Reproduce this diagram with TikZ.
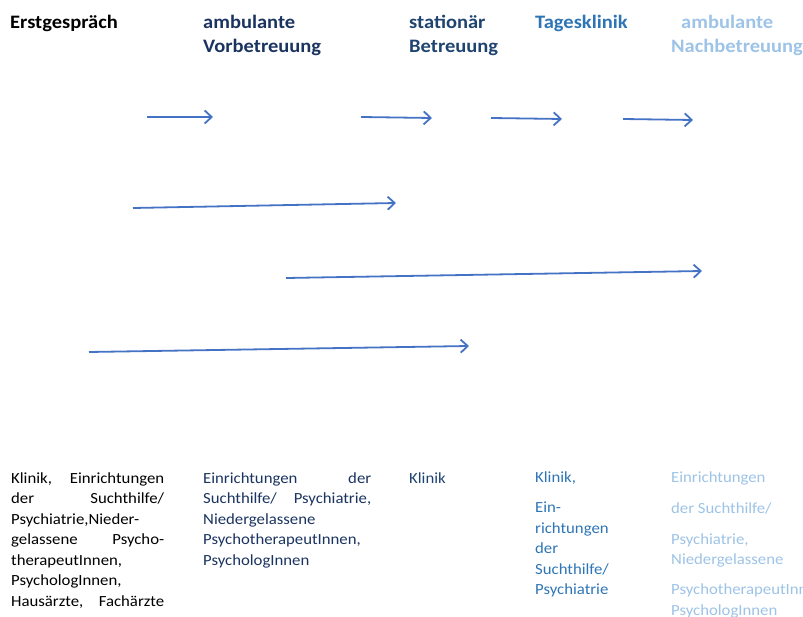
\documentclass[tikz,border=0pt]{standalone}
\usepackage{fontspec}
\setmainfont{Carlito}[FakeStretch=1.08]
\usetikzlibrary{arrows.meta}
\definecolor{navy}{HTML}{1A3360}
\definecolor{slate}{HTML}{1F4470}
\definecolor{midblue}{HTML}{2E75B6}
\definecolor{lightblue}{HTML}{9DC3E6}
\definecolor{arrowblue}{HTML}{4472C4}
\tikzset{
  hdr/.style={font=\fontsize{19}{24}\selectfont\bfseries, anchor=base west, inner sep=0pt},
  body/.style={font=\fontsize{15.5}{20.5}\selectfont, anchor=base west, inner sep=0pt},
  flow/.style={draw=arrowblue, line width=1.8pt, -{Straight Barb[length=7pt,width=13pt,line width=1.8pt]}}
}
\begin{document}
\begin{tikzpicture}[x=1pt,y=-1pt]
\useasboundingbox (0,0) rectangle (803,617);
\clip (0,0) rectangle (803,617);
% headers
\node[hdr] (h1) at (10,29) {Erstgespräch};
\node[hdr, text=navy] (h2a) at (203,29) {ambulante};
\node[hdr, text=navy] (h2b) at (203,53) {Vorbetreuung};
\node[hdr, text=slate] (h3a) at (409,29) {stationär};
\node[hdr, text=slate] (h3b) at (409,53) {Betreuung};
\node[hdr, text=midblue] (h4) at (535,29) {Tagesklinik};
\node[hdr, text=lightblue] (h5a) at (681,29) {ambulante};
\node[hdr, text=lightblue] (h5b) at (671,53) {Nachbetreuung};
% arrow end points
\coordinate (a1s) at (147,117); \coordinate (a1e) at (213,117);
\coordinate (a2s) at (361,117); \coordinate (a2e) at (432,118);
\coordinate (a3s) at (491,118); \coordinate (a3e) at (562,119);
\coordinate (a4s) at (623,119); \coordinate (a4e) at (693,120);
\coordinate (b1s) at (133,208); \coordinate (b1e) at (396,203);
\coordinate (b2s) at (286,278); \coordinate (b2e) at (702,271);
\coordinate (b3s) at (89,352);  \coordinate (b3e) at (469,346);
\draw[flow] (a1s) -- (a1e);
\draw[flow] (a2s) -- (a2e);
\draw[flow] (a3s) -- (a3e);
\draw[flow] (a4s) -- (a4e);
\draw[flow] (b1s) -- (b1e);
\draw[flow] (b2s) -- (b2e);
\draw[flow] (b3s) -- (b3e);
% column 1
\node[body] (c1l1) at (11,483) {\makebox[153pt][s]{Klinik, Einrichtungen}};
\node[body] (c1l2) at (11,503.5) {\makebox[153pt][s]{der Suchthilfe/}};
\node[body] (c1l3) at (11,524) {Psychiatrie,Nieder-};
\node[body] (c1l4) at (11,544.5) {\makebox[153pt][s]{gelassene Psycho-}};
\node[body] (c1l5) at (11,565) {therapeutInnen,};
\node[body] (c1l6) at (11,585.5) {PsychologInnen,};
\node[body] (c1l7) at (11,606) {\makebox[153pt][s]{Hausärzte, Fachärzte}};
% column 2
\node[body, text=navy] (c2l1) at (203,483) {\makebox[168pt][s]{Einrichtungen der}};
\node[body, text=navy] (c2l2) at (203,503.5) {\makebox[168pt][s]{Suchthilfe/ Psychiatrie,}};
\node[body, text=navy] (c2l3) at (203,524) {Niedergelassene};
\node[body, text=navy] (c2l4) at (203,544.5) {PsychotherapeutInnen,};
\node[body, text=navy] (c2l5) at (203,565) {PsychologInnen};
% column 3
\node[body, text=slate] (c3l1) at (409,483) {Klinik};
% column 4
\node[body, text=midblue] (c4l1) at (535,482) {Klinik,};
\node[body, text=midblue] (c4l2) at (535,512.5) {Ein-};
\node[body, text=midblue] (c4l3) at (535,533) {richtungen};
\node[body, text=midblue] (c4l4) at (535,553.5) {der};
\node[body, text=midblue] (c4l5) at (535,574) {Suchthilfe/};
\node[body, text=midblue] (c4l6) at (535,594.5) {Psychiatrie};
% column 5
\node[body, text=lightblue] (c5l1) at (671,482) {Einrichtungen};
\node[body, text=lightblue] (c5l2) at (671,513) {der Suchthilfe/};
\node[body, text=lightblue] (c5l3) at (671,544) {Psychiatrie,};
\node[body, text=lightblue] (c5l4) at (671,564.5) {Niedergelassene};
\node[body, text=lightblue] (c5l5) at (671,594.5) {PsychotherapeutInnen,};
\node[body, text=lightblue] (c5l6) at (671,615) {PsychologInnen};
\end{tikzpicture}
\end{document}
